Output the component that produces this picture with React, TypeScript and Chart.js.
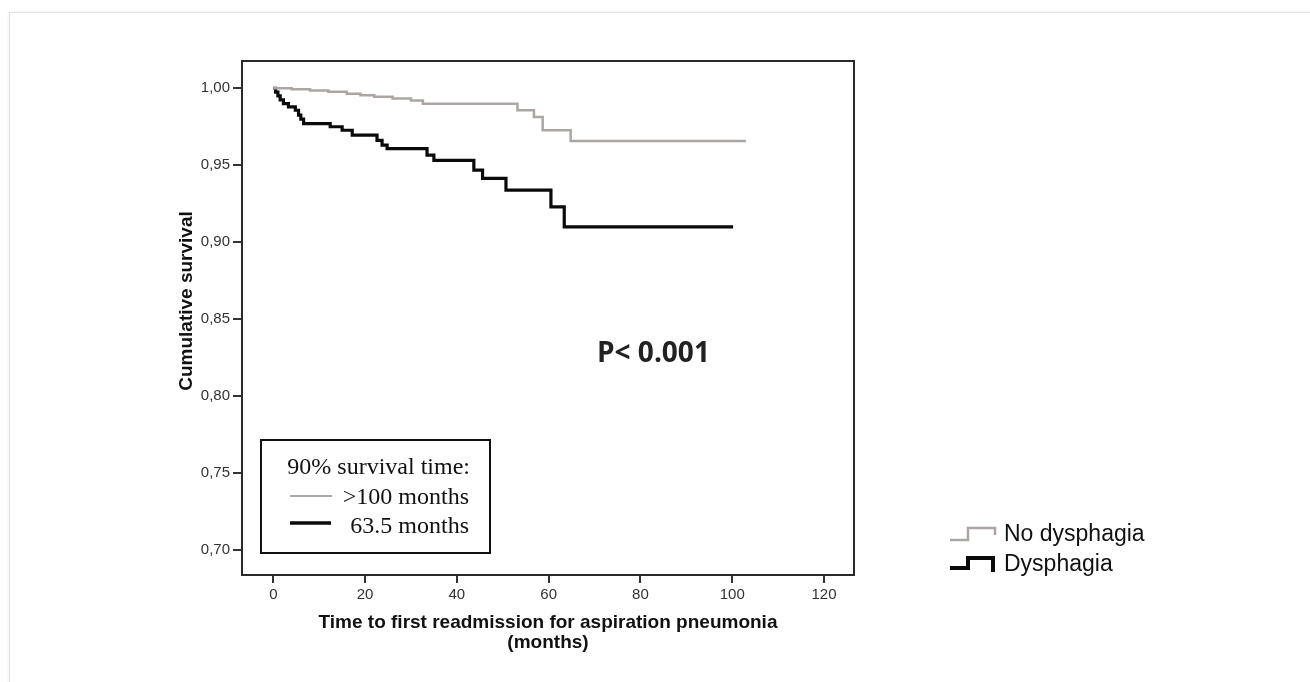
import React, { useEffect, useRef } from "react";
import { Chart, registerables } from "chart.js";

Chart.register(...registerables);

// ---- data ----
const noDysTimes = [0, 4, 8, 12, 16, 19, 22, 26, 30, 32.6, 53.2, 56.8, 58.7, 64.8, 103];
const noDysSurv = [1.0, 0.9993, 0.9985, 0.9978, 0.9965, 0.9955, 0.9944, 0.9933, 0.992, 0.99, 0.9857, 0.9814, 0.9727, 0.9658, 0.9658];

const dysTimes = [0, 0.5, 1.0, 1.5, 2.2, 3.3, 4.8, 5.5, 6.0, 6.6, 12.4, 15.0, 17.2, 22.6, 23.7, 24.8, 33.5, 35.0, 43.7, 45.6, 50.7, 60.5, 63.4, 100.2];
const dysSurv = [1.0, 0.9975, 0.995, 0.9925, 0.99, 0.9879, 0.9857, 0.9825, 0.98, 0.977, 0.975, 0.9727, 0.9695, 0.9662, 0.963, 0.9608, 0.9565, 0.9532, 0.9468, 0.9414, 0.9338, 0.9229, 0.91, 0.91];

const xTicks = [0, 20, 40, 60, 80, 100, 120];
const yTicks = [0.7, 0.75, 0.8, 0.85, 0.9, 0.95, 1.0];

const seriesLabels = ["No dysphagia", "Dysphagia"];
const xTitle = ["Time to first readmission for aspiration pneumonia", "(months)"];
const yTitle = "Cumulative survival";
const pText = "P< 0.001";
const insetTitle = "90% survival time:";
const insetRows = [">100 months", "63.5 months"];

const GRAY = "#aba6a4";
const BLACK = "#0a0a0a";
const SANS = "Arial, 'Liberation Sans', Helvetica, sans-serif";
const SERIF = "'Liberation Serif', 'Times New Roman', serif";

const overlay = {
  id: "overlay",
  afterDraw(chart: any) {
    const ctx = chart.ctx as CanvasRenderingContext2D;
    const a = chart.chartArea;
    ctx.save();
    // frame
    ctx.strokeStyle = "#2a2a2a";
    ctx.lineWidth = 2;
    ctx.strokeRect(a.left, a.top, a.right - a.left, a.bottom - a.top);

    // y title
    ctx.save();
    ctx.translate(187, 301);
    ctx.rotate(-Math.PI / 2);
    ctx.font = `bold 19px ${SANS}`;
    ctx.fillStyle = "#111";
    ctx.textAlign = "center";
    ctx.textBaseline = "middle";
    ctx.fillText(yTitle, 0, 0);
    ctx.restore();

    // P value
    ctx.font = `bold 28px 'Open Sans', ${SANS}`;
    ctx.fillStyle = "#222";
    ctx.textAlign = "left";
    ctx.textBaseline = "alphabetic";
    ctx.fillText(pText, 597, 362);

    // inset box
    ctx.fillStyle = "#fff";
    ctx.fillRect(261, 440, 229, 113);
    ctx.strokeStyle = "#111";
    ctx.lineWidth = 2;
    ctx.strokeRect(261, 440, 229, 113);
    ctx.fillStyle = "#111";
    ctx.font = `24px ${SERIF}`;
    ctx.textAlign = "right";
    ctx.fillText(insetTitle, 470, 474);
    ctx.fillText(insetRows[0], 469, 504);
    ctx.fillText(insetRows[1], 469, 533);
    ctx.lineCap = "butt";
    ctx.strokeStyle = GRAY;
    ctx.lineWidth = 2;
    ctx.beginPath();
    ctx.moveTo(290, 496);
    ctx.lineTo(332, 496);
    ctx.stroke();
    ctx.strokeStyle = BLACK;
    ctx.lineWidth = 3.5;
    ctx.beginPath();
    ctx.moveTo(290, 523);
    ctx.lineTo(331, 523);
    ctx.stroke();

    // right legend
    ctx.lineJoin = "miter";
    ctx.strokeStyle = GRAY;
    ctx.lineWidth = 2.5;
    ctx.beginPath();
    ctx.moveTo(950, 540);
    ctx.lineTo(968, 540);
    ctx.lineTo(968, 528);
    ctx.lineTo(995, 528);
    ctx.lineTo(995, 535);
    ctx.stroke();
    ctx.strokeStyle = BLACK;
    ctx.lineWidth = 4;
    ctx.beginPath();
    ctx.moveTo(950, 568);
    ctx.lineTo(968, 568);
    ctx.lineTo(968, 558);
    ctx.lineTo(993, 558);
    ctx.lineTo(993, 572);
    ctx.stroke();
    ctx.fillStyle = "#111";
    ctx.font = `23px ${SANS}`;
    ctx.textAlign = "left";
    ctx.fillText(seriesLabels[0], 1004, 541);
    ctx.fillText(seriesLabels[1], 1004, 571);
    ctx.restore();
  },
};

export default function App() {
  const ref = useRef<HTMLCanvasElement>(null);
  useEffect(() => {
    const chart = new Chart(ref.current!, {
      type: "line",
      data: {
        datasets: [
          {
            label: seriesLabels[0],
            data: noDysTimes.map((t, i) => ({ x: t, y: noDysSurv[i] })),
            borderColor: GRAY,
            borderWidth: 2.5,
            stepped: "before",
            pointRadius: 0,
            fill: false,
          },
          {
            label: seriesLabels[1],
            data: dysTimes.map((t, i) => ({ x: t, y: dysSurv[i] })),
            borderColor: BLACK,
            borderWidth: 3.2,
            stepped: "before",
            pointRadius: 0,
            fill: false,
          },
        ],
      },
      options: {
        responsive: false,
        animation: false,
        events: [],
        layout: { padding: { left: 182, top: 61, right: 456, bottom: 29 } },
        plugins: { legend: { display: false }, tooltip: { enabled: false } },
        scales: {
          x: {
            type: "linear",
            min: -6.82,
            max: 126.54,
            afterFit: (s: any) => {
              s.height = 78;
            },
            afterBuildTicks: (s: any) => {
              s.ticks = xTicks.map((v) => ({ value: v }));
            },
            ticks: {
              callback: (v: any) => String(v),
              font: { family: SANS, size: 15 },
              color: "#333",
              padding: 3,
              maxRotation: 0,
              autoSkip: false,
            },
            grid: { drawOnChartArea: false, drawTicks: true, tickLength: 8, color: "#333", lineWidth: 2 },
            border: { display: false },
            title: {
              display: true,
              text: xTitle,
              font: { family: SANS, size: 19, weight: "bold", lineHeight: 20 / 19 },
              color: "#111",
              padding: 0,
            },
          },
          y: {
            type: "linear",
            min: 0.6838,
            max: 1.0177,
            afterFit: (s: any) => {
              s.width = 60;
            },
            afterBuildTicks: (s: any) => {
              s.ticks = yTicks.map((v) => ({ value: v }));
            },
            ticks: {
              callback: (v: any) => Number(v).toFixed(2).replace(".", ","),
              font: { family: SANS, size: 15 },
              color: "#333",
              padding: 3,
              autoSkip: false,
            },
            grid: { drawOnChartArea: false, drawTicks: true, tickLength: 9, color: "#333", lineWidth: 2 },
            border: { display: false },
          },
        },
      },
      plugins: [overlay],
    } as any);
    return () => chart.destroy();
  }, []);

  return (
    <div style={{ position: "fixed", left: 0, top: 0, width: 1310, height: 682, overflow: "hidden", background: "#fff" }}>
      <div
        style={{
          position: "absolute",
          left: 9,
          top: 12,
          width: 1400,
          height: 800,
          border: "1px solid #e2e2e2",
          boxShadow: "0 0 4px rgba(0,0,0,0.08)",
          background: "#fff",
        }}
      />
      <canvas ref={ref} width={1310} height={682} style={{ position: "absolute", left: 0, top: 0, width: 1310, height: 682 }} />
    </div>
  );
}
